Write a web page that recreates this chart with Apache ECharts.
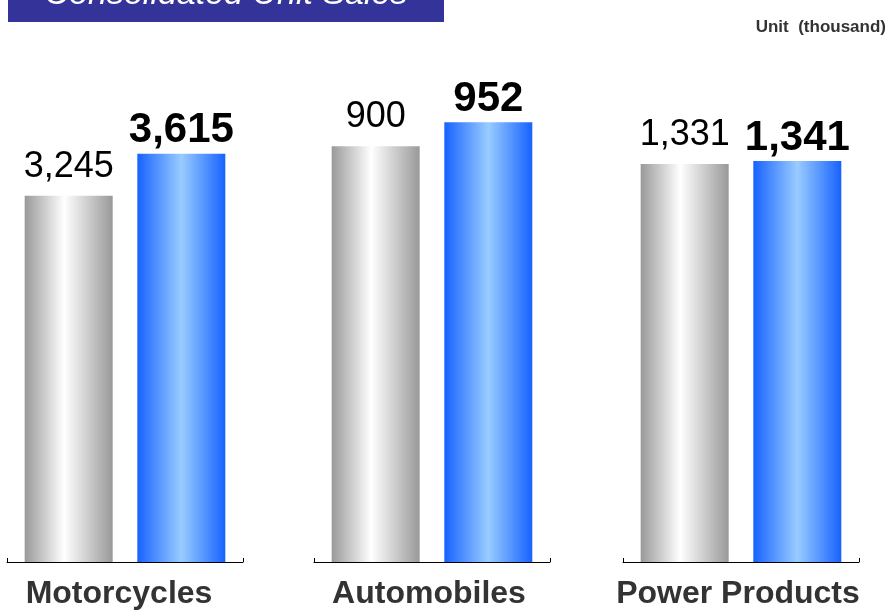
<!DOCTYPE html>
<html>
<head>
<meta charset="utf-8">
<style>
  html, body { margin: 0; padding: 0; background: #fff; }
  #main { width: 890px; height: 610px; }
</style>
</head>
<body>
<div id="main"></div>
<script src="https://cdn.jsdelivr.net/npm/echarts@6/dist/echarts.min.js"></script>
<script>
var categories = ['Motorcycles', 'Automobiles', 'Power Products'];
var prevYear = [3245, 900, 1331];
var currYear = [3615, 952, 1341];
// each group has its own scale
var axisMax = [4092, 1000, 1545];

var FONT = '"Liberation Sans", Arial, sans-serif';
var gridLeft = [7, 314, 623];
var labelShift = [12, 6, 6]; // category labels sit a bit left of centre

var chart = echarts.init(document.getElementById('main'));

var grayGrad = new echarts.graphic.LinearGradient(0, 0, 1, 0, [
    {offset: 0, color: '#999999'},
    {offset: 0.45, color: '#ffffff'},
    {offset: 1, color: '#999999'}
]);
var blueGrad = new echarts.graphic.LinearGradient(0, 0, 1, 0, [
    {offset: 0, color: '#1762ff'},
    {offset: 0.5, color: '#99ccff'},
    {offset: 1, color: '#1762ff'}
]);

function fmt(v) {
    return v.toLocaleString('en-US');
}

var grids = [], xAxes = [], yAxes = [], series = [];
categories.forEach(function (cat, i) {
    grids.push({left: gridLeft[i], width: 236, top: 100, bottom: 47});
    xAxes.push({
        type: 'category',
        gridIndex: i,
        data: [cat],
        axisLine: {lineStyle: {color: '#000', width: 1}},
        axisTick: {show: true, inside: true, length: 4, lineStyle: {color: '#000'}},
        axisLabel: {
            color: '#333', fontFamily: FONT, fontWeight: 'bold', fontSize: 32, margin: 16,
            padding: [0, labelShift[i], 0, 0]
        }
    });
    yAxes.push({type: 'value', gridIndex: i, min: 0, max: axisMax[i], show: false});
    series.push({
        type: 'bar',
        xAxisIndex: i,
        yAxisIndex: i,
        barWidth: 88,
        barGap: '28%',
        data: [prevYear[i]],
        itemStyle: {color: grayGrad},
        label: {
            show: true, position: 'top', distance: 11,
            color: '#000', fontFamily: FONT, fontSize: 36,
            formatter: function (p) { return fmt(p.value); }
        }
    });
    series.push({
        type: 'bar',
        xAxisIndex: i,
        yAxisIndex: i,
        barWidth: 88,
        barGap: '28%',
        data: [currYear[i]],
        itemStyle: {color: blueGrad},
        label: {
            show: true, position: 'top', distance: 2,
            color: '#000', fontFamily: FONT, fontSize: 42, fontWeight: 'bold',
            formatter: function (p) { return fmt(p.value); }
        }
    });
});

var option = {
    animation: false,
    backgroundColor: '#fff',
    grid: grids,
    xAxis: xAxes,
    yAxis: yAxes,
    series: series,
    graphic: [
        {
            type: 'rect',
            shape: {x: 8, y: 0, width: 436, height: 22},
            style: {fill: '#333399'}
        },
        {
            type: 'text',
            x: 226, y: -5,
            style: {
                text: 'Consolidated Unit Sales',
                fill: '#fff', font: 'italic 34px ' + FONT,
                textAlign: 'center', textVerticalAlign: 'middle'
            }
        },
        {
            type: 'text',
            x: 886, y: 27,
            style: {
                text: 'Unit  (thousand)',
                fill: '#333', font: 'bold 17px ' + FONT,
                textAlign: 'right', textVerticalAlign: 'middle'
            }
        }
    ]
};

chart.setOption(option);
</script>
</body>
</html>
